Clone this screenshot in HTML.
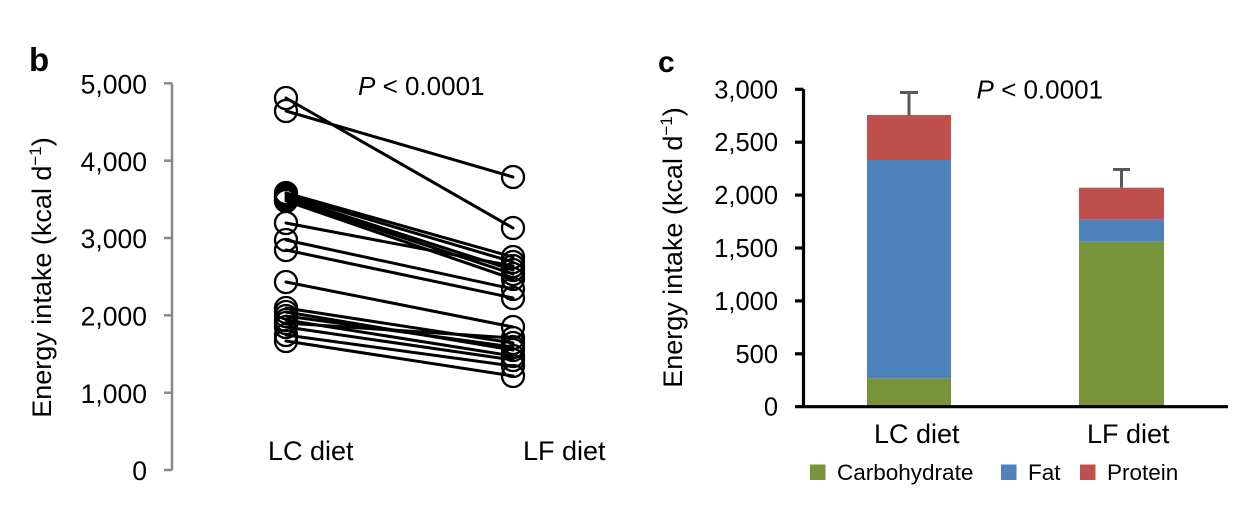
<!DOCTYPE html>
<html>
<head>
<meta charset="utf-8">
<style>
html,body{margin:0;padding:0;background:#fff;}
svg{display:block;}
text{font-family:"Liberation Sans",Arial,sans-serif;fill:#000;}
</style>
</head>
<body>
<svg width="1259" height="513" viewBox="0 0 1259 513" xmlns="http://www.w3.org/2000/svg">
  <rect width="1259" height="513" fill="#fff"/>

  <!-- ===== Panel b ===== -->
  <text x="29" y="71" font-size="33" font-weight="bold">b</text>

  <!-- y axis -->
  <g stroke="#888" stroke-width="2.5" fill="none">
    <line x1="172" y1="83.3" x2="172" y2="470"/>
    <line x1="164" y1="83.3" x2="172" y2="83.3"/>
    <line x1="164" y1="160.6" x2="172" y2="160.6"/>
    <line x1="164" y1="238" x2="172" y2="238"/>
    <line x1="164" y1="315.3" x2="172" y2="315.3"/>
    <line x1="164" y1="392.7" x2="172" y2="392.7"/>
    <line x1="164" y1="470" x2="172" y2="470"/>
  </g>
  <g font-size="26.5" text-anchor="end">
    <text x="147" y="93.5">5,000</text>
    <text x="147" y="170.8">4,000</text>
    <text x="147" y="248.2">3,000</text>
    <text x="147" y="325.5">2,000</text>
    <text x="147" y="402.9">1,000</text>
    <text x="147" y="480.2">0</text>
  </g>
  <text transform="translate(51,277.5) rotate(-90)" font-size="27" text-anchor="middle">Energy intake (kcal d<tspan font-size="17" dy="-10">−1</tspan><tspan dy="10">)</tspan></text>

  <text x="358" y="95" font-size="26"><tspan font-style="italic">P</tspan> &lt; 0.0001</text>

  <!-- lines -->
  <g stroke="#000" stroke-width="3" fill="none" stroke-linecap="round">
    <line x1="286" y1="98" x2="513" y2="228"/>
    <line x1="286" y1="111" x2="513" y2="177"/>
    <line x1="286" y1="193" x2="513" y2="257"/>
    <line x1="286" y1="195" x2="513" y2="262"/>
    <line x1="286" y1="197" x2="513" y2="270"/>
    <line x1="286" y1="199" x2="513" y2="274"/>
    <line x1="286" y1="201" x2="513" y2="279"/>
    <line x1="286" y1="223" x2="513" y2="266"/>
    <line x1="286" y1="240" x2="513" y2="289"/>
    <line x1="286" y1="250" x2="513" y2="298"/>
    <line x1="286" y1="282" x2="513" y2="327"/>
    <line x1="286" y1="308" x2="513" y2="343"/>
    <line x1="286" y1="312" x2="513" y2="350"/>
    <line x1="286" y1="316" x2="513" y2="347"/>
    <line x1="286" y1="320" x2="513" y2="356"/>
    <line x1="286" y1="323" x2="513" y2="338"/>
    <line x1="286" y1="327" x2="513" y2="360"/>
    <line x1="286" y1="335" x2="513" y2="366"/>
    <line x1="286" y1="341" x2="513" y2="376"/>
  </g>
  <!-- circles -->
  <g stroke="#000" stroke-width="2.3" fill="none">
    <circle cx="286" cy="98" r="11"/>
    <circle cx="286" cy="111" r="11"/>
    <circle cx="286" cy="193" r="11"/>
    <circle cx="286" cy="195" r="11"/>
    <circle cx="286" cy="197" r="11"/>
    <circle cx="286" cy="199" r="11"/>
    <circle cx="286" cy="201" r="11"/>
    <circle cx="286" cy="223" r="11"/>
    <circle cx="286" cy="240" r="11"/>
    <circle cx="286" cy="250" r="11"/>
    <circle cx="286" cy="282" r="11"/>
    <circle cx="286" cy="308" r="11"/>
    <circle cx="286" cy="312" r="11"/>
    <circle cx="286" cy="316" r="11"/>
    <circle cx="286" cy="320" r="11"/>
    <circle cx="286" cy="323" r="11"/>
    <circle cx="286" cy="327" r="11"/>
    <circle cx="286" cy="335" r="11"/>
    <circle cx="286" cy="341" r="11"/>

    <circle cx="513" cy="177" r="11"/>
    <circle cx="513" cy="228" r="11"/>
    <circle cx="513" cy="257" r="11"/>
    <circle cx="513" cy="262" r="11"/>
    <circle cx="513" cy="270" r="11"/>
    <circle cx="513" cy="274" r="11"/>
    <circle cx="513" cy="279" r="11"/>
    <circle cx="513" cy="266" r="11"/>
    <circle cx="513" cy="289" r="11"/>
    <circle cx="513" cy="298" r="11"/>
    <circle cx="513" cy="327" r="11"/>
    <circle cx="513" cy="343" r="11"/>
    <circle cx="513" cy="350" r="11"/>
    <circle cx="513" cy="347" r="11"/>
    <circle cx="513" cy="356" r="11"/>
    <circle cx="513" cy="338" r="11"/>
    <circle cx="513" cy="360" r="11"/>
    <circle cx="513" cy="366" r="11"/>
    <circle cx="513" cy="376" r="11"/>
  </g>

  <text x="268" y="460" font-size="27">LC diet</text>
  <text x="523" y="460" font-size="27">LF diet</text>

  <!-- ===== Panel c ===== -->
  <text x="658" y="72" font-size="30" font-weight="bold">c</text>

  <text transform="translate(682,247.5) rotate(-90)" font-size="27" text-anchor="middle">Energy intake (kcal d<tspan font-size="17" dy="-10">−1</tspan><tspan dy="10">)</tspan></text>

  <g font-size="25.5" text-anchor="end">
    <text x="778" y="98.3">3,000</text>
    <text x="778" y="151.2">2,500</text>
    <text x="778" y="204.1">2,000</text>
    <text x="778" y="257">1,500</text>
    <text x="778" y="309.9">1,000</text>
    <text x="778" y="362.8">500</text>
    <text x="778" y="415.7">0</text>
  </g>

  <!-- bars -->
  <rect x="867" y="378.3" width="84" height="27.4" fill="#77933c"/>
  <rect x="867" y="160" width="84" height="218.3" fill="#4f81bd"/>
  <rect x="867" y="115" width="84" height="45" fill="#c0504d"/>

  <rect x="1079" y="241.7" width="85" height="164" fill="#77933c"/>
  <rect x="1079" y="219.3" width="85" height="22.4" fill="#4f81bd"/>
  <rect x="1079" y="187.7" width="85" height="31.6" fill="#c0504d"/>

  <!-- error bars -->
  <g stroke="#595959" stroke-width="3" fill="none">
    <line x1="909" y1="115" x2="909" y2="92.5"/>
    <line x1="900" y1="92.5" x2="918" y2="92.5"/>
    <line x1="1121.5" y1="187.7" x2="1121.5" y2="169.5"/>
    <line x1="1113" y1="169.5" x2="1130" y2="169.5"/>
  </g>

  <!-- axes -->
  <g stroke="#000" stroke-width="3.2" fill="none">
    <line x1="803.5" y1="89.3" x2="803.5" y2="406.7"/>
    <line x1="795" y1="89.3" x2="803.5" y2="89.3"/>
    <line x1="795" y1="142.2" x2="803.5" y2="142.2"/>
    <line x1="795" y1="195.1" x2="803.5" y2="195.1"/>
    <line x1="795" y1="248" x2="803.5" y2="248"/>
    <line x1="795" y1="300.9" x2="803.5" y2="300.9"/>
    <line x1="795" y1="353.8" x2="803.5" y2="353.8"/>
    <line x1="795" y1="406.7" x2="1228" y2="406.7"/>
  </g>

  <text x="976.5" y="98.3" font-size="26"><tspan font-style="italic">P</tspan> &lt; 0.0001</text>

  <text x="874" y="443" font-size="27">LC diet</text>
  <text x="1087" y="443" font-size="27">LF diet</text>

  <!-- legend -->
  <rect x="810" y="464.5" width="15.5" height="15.5" fill="#77933c"/>
  <text x="837" y="480" font-size="22.5">Carbohydrate</text>
  <rect x="1001" y="464.5" width="15.5" height="15.5" fill="#4f81bd"/>
  <text x="1028" y="480" font-size="22.5">Fat</text>
  <rect x="1080" y="464.5" width="15.5" height="15.5" fill="#c0504d"/>
  <text x="1107" y="480" font-size="22.5">Protein</text>
</svg>
</body>
</html>
